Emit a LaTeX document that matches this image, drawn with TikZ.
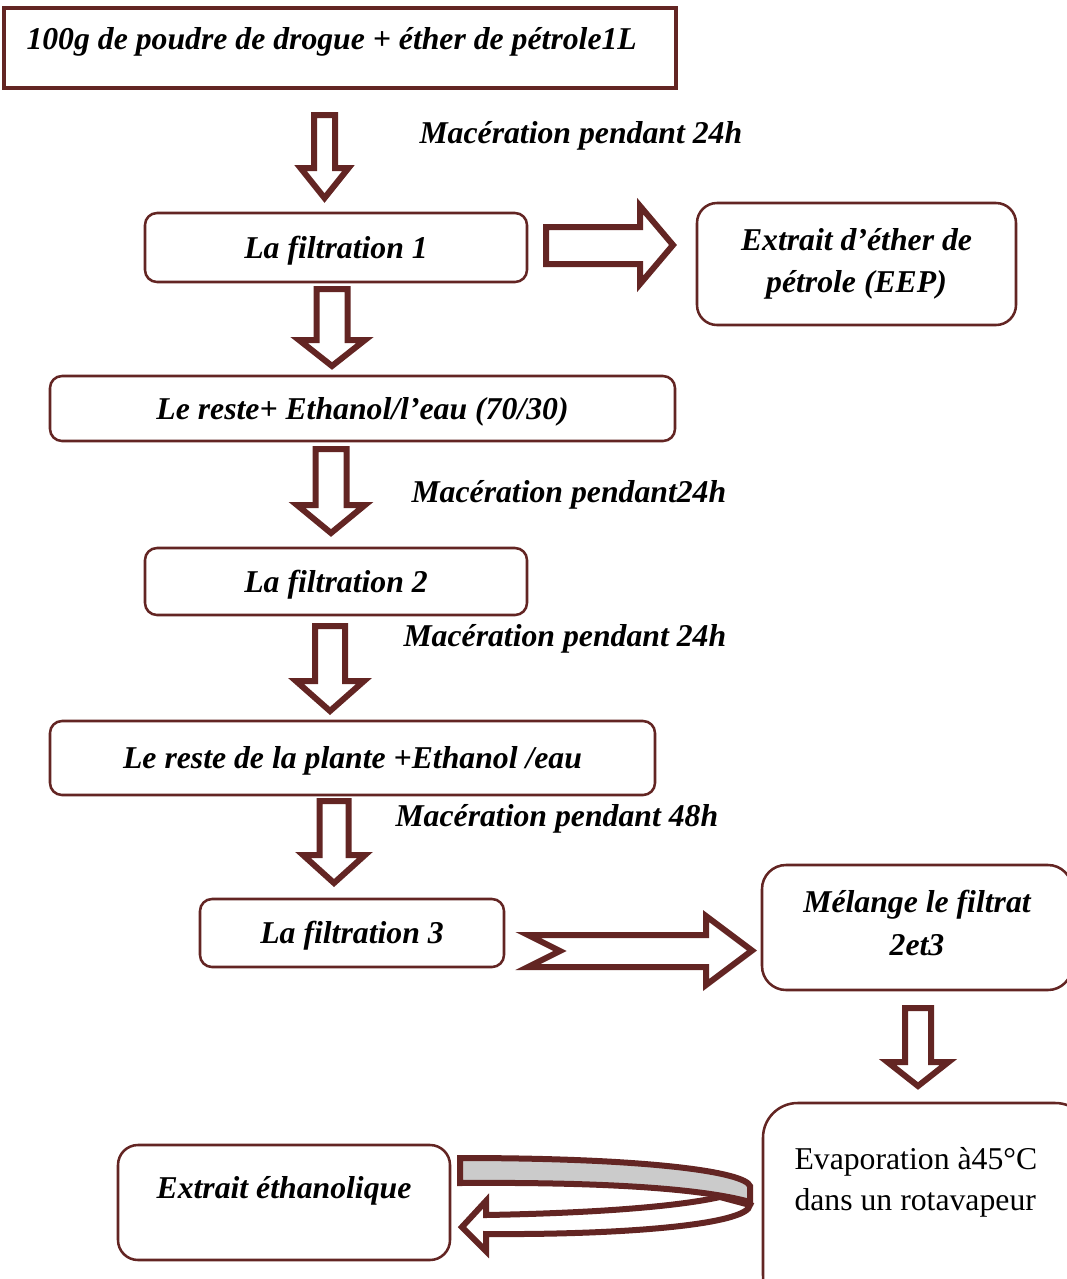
\documentclass[tikz,border=0pt]{standalone}
\usepackage{fontspec}
\setmainfont{Liberation Serif}
\definecolor{brun}{HTML}{632523}
\definecolor{grisband}{HTML}{CBCBCB}

\tikzset{every picture/.style={line width=0.75pt}}
\tikzset{
	cadre/.style={draw=brun, line width=1.9pt, fill=white, inner sep=0pt, align=center, font=\fontsize{23.8}{32}\selectfont\bfseries\itshape},
	arrondi/.style={cadre, rounded corners=9pt},
	uneligne/.style={text height=18.5pt, text depth=2.6pt},
	texte/.style={inner sep=0.75pt, font=\fontsize{23.8}{32}\selectfont\bfseries\itshape},
	fleche/.style={draw=brun, line width=4.5pt, fill=white, miter limit=10}
}

\begin{document}
\begin{tikzpicture}[x=0.75pt,y=0.75pt,yscale=-1,xscale=1]
				\useasboundingbox (0,0) rectangle (1067,1279);
				\clip (0,0) rectangle (1067,1279);
				
				%Rectangles
				\node (depart) [cadre, line width=2.4pt, minimum width=504pt, minimum height=60pt] at (340,48) {};
				\node (filtre1) [arrondi, uneligne, minimum width=286.5pt, minimum height=51.75pt] at (336,247.5) {La filtration 1};
				\node (eep) [arrondi, rounded corners=15pt, minimum width=239.25pt, minimum height=91.5pt] at (856.5,264) {Extrait d’éther de\\pétrole (EEP)};
				\node (reste1) [arrondi, uneligne, minimum width=468.75pt, minimum height=48.75pt] at (362.5,408.5) {Le reste+ Ethanol/l’eau (70/30)};
				\node (filtre2) [arrondi, uneligne, minimum width=286.5pt, minimum height=50.25pt] at (336,581.5) {La filtration 2};
				\node (reste2) [arrondi, uneligne, minimum width=453.75pt, minimum height=55.5pt] at (352.5,758) {Le reste de la plante +Ethanol /eau};
				\node (filtre3) [arrondi, uneligne, minimum width=228pt, minimum height=51pt] at (352,933) {La filtration 3};
				\node (melange) [arrondi, rounded corners=18pt, minimum width=232.5pt, minimum height=93.75pt] at (917,927.5) {};
				\node (evap) [arrondi, rounded corners=26pt, minimum width=245.25pt, minimum height=155.25pt] at (926.5,1206.5) {};
				\node (ethanol) [arrondi, rounded corners=15pt, minimum width=249pt, minimum height=86.25pt] at (284,1202.5) {};
				
				% Text Node
				\node (depart-t) [texte, anchor=west] at (25,42) {100g de poudre de drogue + éther de pétrole1L};
				% Text Node
				\node (melange-t) [texte, align=center] at (917,923) {Mélange le filtrat\\2et3};
				% Text Node
				\node (evap-t) [texte, font=\fontsize{23.8}{31}\selectfont, anchor=west, align=left] at (793,1182) {Evaporation à45°C\\dans un rotavapeur};
				% Text Node
				\node (ethanol-t) at (284,1191) [texte] {Extrait éthanolique};
				% Text Node
				\node (mac1) [texte, anchor=west] at (418,136) {Macération pendant 24h};
				% Text Node
				\node (mac2) [texte, anchor=west] at (410,495) {Macération pendant24h};
				% Text Node
				\node (mac3) [texte, anchor=west] at (402,639) {Macération pendant 24h};
				% Text Node
				\node (mac4) [texte, anchor=west] at (394,819) {Macération pendant 48h};
				
				%Down Arrow
				\draw [fleche] (314,115) -- (335,115) -- (335,168) -- (348.5,168) -- (324.5,198) -- (300.5,168) -- (314,168) -- cycle ;
				%Right Arrow
				\draw [fleche] (546,227) -- (640,227) -- (640,206) -- (673,245) -- (640,284) -- (640,264) -- (546,264) -- cycle ;
				%Down Arrow
				\draw [fleche] (316.5,289) -- (347.5,289) -- (347.5,340) -- (365,340) -- (332,366) -- (299,340) -- (316.5,340) -- cycle ;
				%Down Arrow
				\draw [fleche] (315.5,449) -- (346.5,449) -- (346.5,505) -- (365,505) -- (331,533) -- (297,505) -- (315.5,505) -- cycle ;
				%Down Arrow
				\draw [fleche] (315,626) -- (345,626) -- (345,681) -- (364,681) -- (330,711) -- (296,681) -- (315,681) -- cycle ;
				%Down Arrow
				\draw [fleche] (319.5,801) -- (348.5,801) -- (348.5,855) -- (365,855) -- (334,883) -- (303,855) -- (319.5,855) -- cycle ;
				%Notched Right Arrow
				\draw [fleche] (528,935) -- (706,935) -- (706,916) -- (752,950.5) -- (706,985) -- (706,967) -- (528,967) -- (560,951) -- cycle ;
				%Down Arrow
				\draw [fleche] (905,1008) -- (931,1008) -- (931,1062) -- (948.5,1062) -- (918,1086) -- (887.5,1062) -- (905,1062) -- cycle ;
				
				%Curved Arrow
				\draw [fleche] (750,1205) .. controls (748,1225) and (620,1235) .. (486,1234) -- (486,1251) -- (462,1227) -- (486,1201) -- (486,1215) .. controls (600,1213) and (680,1206) .. (720,1197) -- cycle ;
				\draw [fleche, fill=grisband] (460,1158) .. controls (650,1158) and (745,1172) .. (750,1186) -- (750,1202) .. controls (700,1188) and (600,1182) .. (460,1183) -- cycle ;
				
\end{tikzpicture}
\end{document}
